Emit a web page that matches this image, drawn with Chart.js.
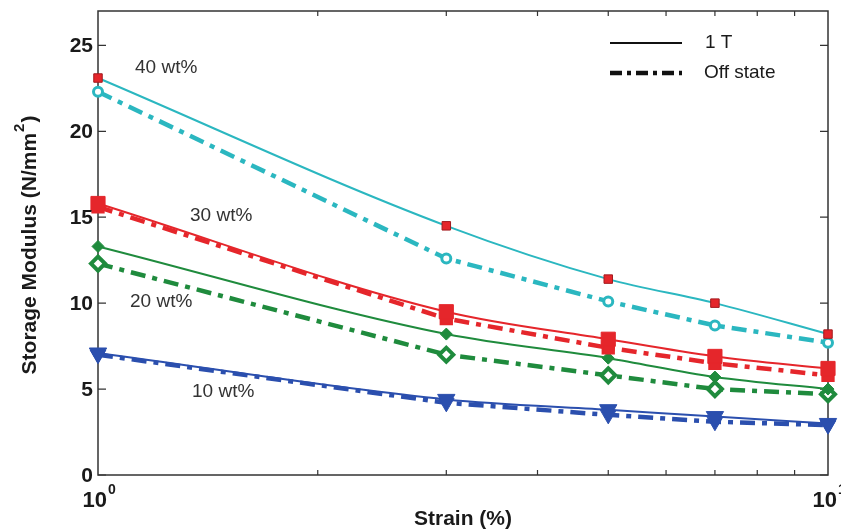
<!DOCTYPE html>
<html>
<head>
<meta charset="utf-8">
<script src="https://cdn.jsdelivr.net/npm/chart.js@4.4.1/dist/chart.umd.min.js"></script>
<style>
  html, body { margin: 0; padding: 0; background: #ffffff; }
  #wrap { width: 841px; height: 531px; }
</style>
</head>
<body>
<div id="wrap"><canvas id="modulusChart" width="841" height="531"></canvas></div>
<script>
// strain (%) sampled on a log axis
const strain = [1, 3, 5, 7, 10];

// storage modulus (N/mm^2) per filler content, with field (1 T) and without (off state)
const wt40On  = [23.1, 14.5, 11.4, 10.0, 8.2];
const wt40Off = [22.3, 12.6, 10.1, 8.7, 7.7];
const wt30On  = [15.8, 9.5, 7.9, 6.9, 6.2];
const wt30Off = [15.6, 9.1, 7.4, 6.5, 5.8];
const wt20On  = [13.3, 8.2, 6.8, 5.7, 5.0];
const wt20Off = [12.3, 7.0, 5.8, 5.0, 4.7];
const wt10On  = [7.1, 4.4, 3.8, 3.4, 3.0];
const wt10Off = [7.0, 4.2, 3.5, 3.1, 2.9];

const yTicks = [0, 5, 10, 15, 20, 25];
const xMajorTicks = [1, 10];
const xMajorExp = ["0", "1"];
const xMinorTicks = [2, 3, 4, 5, 6, 7, 8, 9];

const groupLabels = ["40 wt%", "30 wt%", "20 wt%", "10 wt%"];
const legendLabels = ["1 T", "Off state"];

const cyan = "#2bb7c0";
const red = "#e5262b";
const green = "#1f8b3d";
const blue = "#2b4fae";

const FONT = "'Liberation Sans', Arial, sans-serif";

function pts(arr) {
    return strain.map(function (x, i) { return { x: x, y: arr[i] }; });
}

function onSeries(label, arr, color, style, radius, fill, edge) {
    return {
        label: label,
        data: pts(arr),
        borderColor: color,
        borderWidth: 2,
        pointStyle: style,
        pointRadius: radius,
        pointBackgroundColor: fill,
        pointBorderColor: edge,
        pointBorderWidth: 1,
        pointRotation: style === "triangle" ? 180 : 0,
        cubicInterpolationMode: "monotone",
        clip: false
    };
}

function offSeries(label, arr, color, style, radius, fill, edgeWidth) {
    return {
        label: label,
        data: pts(arr),
        borderColor: color,
        borderWidth: 4.5,
        borderDash: [15, 7, 5, 7],
        pointStyle: style,
        pointRadius: radius,
        pointBackgroundColor: fill,
        pointBorderColor: color,
        pointBorderWidth: edgeWidth,
        pointRotation: style === "triangle" ? 180 : 0,
        clip: false
    };
}

const framePlugin = {
    id: "framePlugin",
    beforeDatasetsDraw: function (chart) {
        const ctx = chart.ctx;
        const a = chart.chartArea;
        const xs = chart.scales.x;
        const ys = chart.scales.y;
        ctx.save();
        ctx.strokeStyle = "#333333";
        ctx.lineWidth = 1.5;
        ctx.strokeRect(a.left, a.top, a.right - a.left, a.bottom - a.top);
        ctx.lineWidth = 1.2;
        ctx.beginPath();
        yTicks.forEach(function (v) {
            const y = ys.getPixelForValue(v);
            ctx.moveTo(a.left, y); ctx.lineTo(a.left + 8, y);
            ctx.moveTo(a.right, y); ctx.lineTo(a.right - 8, y);
        });
        xMinorTicks.forEach(function (v) {
            const x = xs.getPixelForValue(v);
            ctx.moveTo(x, a.bottom); ctx.lineTo(x, a.bottom - 5);
            ctx.moveTo(x, a.top); ctx.lineTo(x, a.top + 5);
        });
        ctx.stroke();
        ctx.restore();
    },
    afterDraw: function (chart) {
        const ctx = chart.ctx;
        const a = chart.chartArea;
        const xs = chart.scales.x;
        const ys = chart.scales.y;
        ctx.save();
        ctx.fillStyle = "#1a1a1a";

        // y tick labels
        ctx.font = "bold 21px " + FONT;
        ctx.textAlign = "right";
        ctx.textBaseline = "middle";
        yTicks.forEach(function (v) {
            ctx.fillText(String(v), a.left - 5, ys.getPixelForValue(v) + 1);
        });

        // x tick labels 10^n
        xMajorTicks.forEach(function (v, i) {
            const x = xs.getPixelForValue(v);
            ctx.font = "bold 22px " + FONT;
            ctx.textAlign = "right";
            ctx.textBaseline = "middle";
            ctx.fillText("10", x + 9, a.bottom + 26);
            ctx.font = "bold 14px " + FONT;
            ctx.textAlign = "left";
            ctx.fillText(xMajorExp[i], x + 10, a.bottom + 15);
        });

        // axis titles
        ctx.font = "bold 21px " + FONT;
        ctx.textAlign = "center";
        ctx.textBaseline = "middle";
        ctx.fillText("Strain (%)", (a.left + a.right) / 2, a.bottom + 44);

        ctx.save();
        ctx.translate(30, 246);
        ctx.rotate(-Math.PI / 2);
        const main = "Storage Modulus (N/mm";
        ctx.font = "bold 21px " + FONT;
        const w1 = ctx.measureText(main).width;
        ctx.font = "bold 15px " + FONT;
        const w2 = ctx.measureText("2").width;
        ctx.font = "bold 21px " + FONT;
        const w3 = ctx.measureText(")").width;
        const x0 = -(w1 + w2 + w3) / 2;
        ctx.textAlign = "left";
        ctx.fillText(main, x0, 0);
        ctx.font = "bold 15px " + FONT;
        ctx.fillText("2", x0 + w1 + 1, -10);
        ctx.font = "bold 21px " + FONT;
        ctx.fillText(")", x0 + w1 + w2 + 2, 0);
        ctx.restore();

        // group annotations
        ctx.fillStyle = "#333333";
        ctx.font = "19px " + FONT;
        ctx.textAlign = "left";
        ctx.textBaseline = "middle";
        ctx.fillText(groupLabels[0], 135, 68);
        ctx.fillText(groupLabels[1], 190, 216);
        ctx.fillText(groupLabels[2], 130, 302);
        ctx.fillText(groupLabels[3], 192, 392);

        // legend
        ctx.strokeStyle = "#111111";
        ctx.lineWidth = 2;
        ctx.beginPath();
        ctx.moveTo(610, 43); ctx.lineTo(682, 43);
        ctx.stroke();
        ctx.lineWidth = 4.5;
        ctx.setLineDash([12, 5, 4, 5]);
        ctx.beginPath();
        ctx.moveTo(610, 73); ctx.lineTo(682, 73);
        ctx.stroke();
        ctx.setLineDash([]);
        ctx.fillStyle = "#1a1a1a";
        ctx.fillText(legendLabels[0], 705, 43);
        ctx.fillText(legendLabels[1], 704, 73);
        ctx.restore();
    }
};

new Chart(document.getElementById("modulusChart").getContext("2d"), {
    type: "line",
    data: {
        datasets: [
            onSeries("40 wt% 1 T", wt40On, cyan, "rect", 6, red, "#a31a1e"),
            offSeries("40 wt% off", wt40Off, cyan, "circle", 4.5, "#ffffff", 3),
            onSeries("30 wt% 1 T", wt30On, red, "rect", 10, red, red),
            offSeries("30 wt% off", wt30Off, red, "rect", 8, red, 2),
            onSeries("20 wt% 1 T", wt20On, green, "rectRot", 6, green, green),
            offSeries("20 wt% off", wt20Off, green, "rectRot", 7, "#ffffff", 4),
            onSeries("10 wt% 1 T", wt10On, blue, "triangle", 10, blue, blue),
            offSeries("10 wt% off", wt10Off, blue, "triangle", 9, blue, 1)
        ]
    },
    options: {
        responsive: false,
        animation: false,
        layout: {
            padding: { left: 98, right: 13, top: 10, bottom: 56 }
        },
        scales: {
            x: { type: "logarithmic", min: 1, max: 10, display: false },
            y: { type: "linear", min: 0, max: 27, display: false }
        },
        plugins: {
            legend: { display: false },
            tooltip: { enabled: false }
        }
    },
    plugins: [framePlugin]
});
</script>
</body>
</html>
